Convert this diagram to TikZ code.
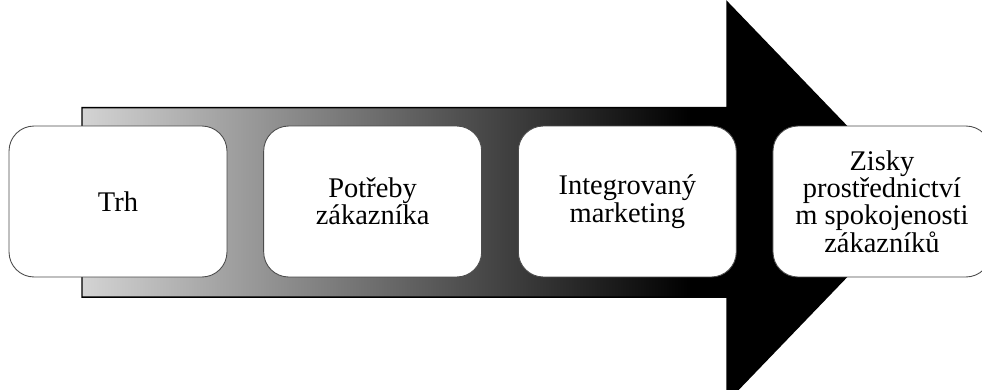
\documentclass[tikz,border=0pt]{standalone}
\usepackage{fontspec}
\setmainfont{Liberation Serif}
\usetikzlibrary{positioning}

\begin{document}
\begin{tikzpicture}[x=0.02cm,y=-0.02cm,node distance=5.094cm,
 stage node/.style={rectangle,rounded corners=0.5cm,draw=black!70,fill=white,
  line width=0.5pt,minimum width=4.36cm,minimum height=3.02cm,inner sep=0pt,
  align=center,font=\fontsize{16.2pt}{15.6pt}\selectfont}]

  \useasboundingbox (0,0) rectangle (982,389);
  \clip (0,0) rectangle (982,389);

  % big arrow: black head, shaft fading from white to black
  \fill[black] (82,107.5) -- (727,107.5) -- (727,2) -- (919,201.5)
    -- (727,401) -- (727,297) -- (82,297) -- cycle;
  \begin{scope}
    \clip (82,107.5) rectangle (727,297);
    \shade[left color=white,right color=black] (-43.5,107.5) rectangle (690.5,297);
  \end{scope}
  \draw[line width=0.85pt] (82,107.5) -- (727,107.5) -- (727,2) -- (919,201.5)
    -- (727,401) -- (727,297) -- (82,297) -- cycle;

  \node[stage node] (1) at (118,201.5) {Trh};
  \node[stage node] (2) [right of=1] {Potřeby\\zákazníka};
  \node[stage node] (3) [right of=2] {Integrovaný\\marketing};
  \node[stage node] (4) [right of=3] {Zisky\\prostřednictví\\m spokojenosti\\zákazníků};
\end{tikzpicture}
\end{document}
